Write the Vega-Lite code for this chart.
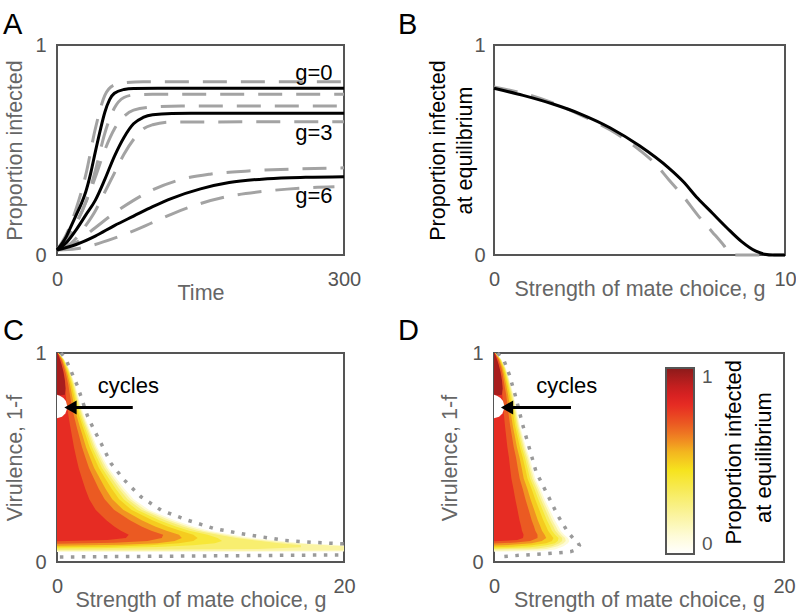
{
"$schema": "https://vega.github.io/schema/vega-lite/v6.json",
"padding": {"left": 2, "top": 10, "right": 0, "bottom": 0},
"columns": 2,
"spacing": {"row": 98, "column": 150},
"bounds": "flush",
"resolve": {"scale": {"color": "independent"}},
"datasets": {
"timeSolid": [
{"g":0,"t":0,"p":0.024},{"g":0,"t":10,"p":0.09},{"g":0,"t":15,"p":0.14},{"g":0,"t":20,"p":0.19},{"g":0,"t":25,"p":0.24},{"g":0,"t":30,"p":0.3},{"g":0,"t":35,"p":0.385},{"g":0,"t":40,"p":0.49},{"g":0,"t":45,"p":0.59},{"g":0,"t":50,"p":0.68},{"g":0,"t":55,"p":0.74},{"g":0,"t":60,"p":0.77},{"g":0,"t":70,"p":0.788},{"g":0,"t":80,"p":0.793},{"g":0,"t":120,"p":0.794},{"g":0,"t":300,"p":0.794},
{"g":3,"t":0,"p":0.024},{"g":3,"t":10,"p":0.06},{"g":3,"t":20,"p":0.12},{"g":3,"t":30,"p":0.19},{"g":3,"t":40,"p":0.26},{"g":3,"t":50,"p":0.36},{"g":3,"t":60,"p":0.47},{"g":3,"t":70,"p":0.56},{"g":3,"t":80,"p":0.625},{"g":3,"t":90,"p":0.655},{"g":3,"t":100,"p":0.668},{"g":3,"t":120,"p":0.674},{"g":3,"t":150,"p":0.675},{"g":3,"t":300,"p":0.675},
{"g":6,"t":0,"p":0.024},{"g":6,"t":20,"p":0.05},{"g":6,"t":40,"p":0.09},{"g":6,"t":60,"p":0.14},{"g":6,"t":80,"p":0.185},{"g":6,"t":100,"p":0.23},{"g":6,"t":120,"p":0.27},{"g":6,"t":150,"p":0.315},{"g":6,"t":180,"p":0.345},{"g":6,"t":220,"p":0.363},{"g":6,"t":260,"p":0.37},{"g":6,"t":300,"p":0.373}
],
"timeDashed": [
{"g":0,"bound":"upper","t":0,"p":0.024},{"g":0,"bound":"upper","t":10,"p":0.1},{"g":0,"bound":"upper","t":20,"p":0.22},{"g":0,"bound":"upper","t":30,"p":0.38},{"g":0,"bound":"upper","t":40,"p":0.6},{"g":0,"bound":"upper","t":50,"p":0.76},{"g":0,"bound":"upper","t":60,"p":0.81},{"g":0,"bound":"upper","t":70,"p":0.82},{"g":0,"bound":"upper","t":90,"p":0.825},{"g":0,"bound":"upper","t":300,"p":0.825},
{"g":0,"bound":"lower","t":0,"p":0.024},{"g":0,"bound":"lower","t":10,"p":0.07},{"g":0,"bound":"lower","t":20,"p":0.15},{"g":0,"bound":"lower","t":30,"p":0.25},{"g":0,"bound":"lower","t":40,"p":0.4},{"g":0,"bound":"lower","t":50,"p":0.58},{"g":0,"bound":"lower","t":60,"p":0.7},{"g":0,"bound":"lower","t":70,"p":0.75},{"g":0,"bound":"lower","t":80,"p":0.762},{"g":0,"bound":"lower","t":100,"p":0.765},{"g":0,"bound":"lower","t":300,"p":0.765},
{"g":3,"bound":"upper","t":0,"p":0.024},{"g":3,"bound":"upper","t":10,"p":0.07},{"g":3,"bound":"upper","t":20,"p":0.15},{"g":3,"bound":"upper","t":30,"p":0.25},{"g":3,"bound":"upper","t":40,"p":0.37},{"g":3,"bound":"upper","t":50,"p":0.5},{"g":3,"bound":"upper","t":60,"p":0.6},{"g":3,"bound":"upper","t":70,"p":0.66},{"g":3,"bound":"upper","t":80,"p":0.69},{"g":3,"bound":"upper","t":100,"p":0.705},{"g":3,"bound":"upper","t":130,"p":0.71},{"g":3,"bound":"upper","t":300,"p":0.71},
{"g":3,"bound":"lower","t":0,"p":0.024},{"g":3,"bound":"lower","t":10,"p":0.04},{"g":3,"bound":"lower","t":20,"p":0.08},{"g":3,"bound":"lower","t":30,"p":0.14},{"g":3,"bound":"lower","t":40,"p":0.21},{"g":3,"bound":"lower","t":50,"p":0.3},{"g":3,"bound":"lower","t":60,"p":0.39},{"g":3,"bound":"lower","t":70,"p":0.48},{"g":3,"bound":"lower","t":80,"p":0.55},{"g":3,"bound":"lower","t":90,"p":0.6},{"g":3,"bound":"lower","t":100,"p":0.62},{"g":3,"bound":"lower","t":120,"p":0.633},{"g":3,"bound":"lower","t":300,"p":0.635},
{"g":6,"bound":"upper","t":0,"p":0.024},{"g":6,"bound":"upper","t":20,"p":0.06},{"g":6,"bound":"upper","t":40,"p":0.13},{"g":6,"bound":"upper","t":60,"p":0.2},{"g":6,"bound":"upper","t":80,"p":0.26},{"g":6,"bound":"upper","t":100,"p":0.31},{"g":6,"bound":"upper","t":130,"p":0.36},{"g":6,"bound":"upper","t":160,"p":0.385},{"g":6,"bound":"upper","t":200,"p":0.4},{"g":6,"bound":"upper","t":250,"p":0.41},{"g":6,"bound":"upper","t":300,"p":0.415},
{"g":6,"bound":"lower","t":0,"p":0.024},{"g":6,"bound":"lower","t":20,"p":0.03},{"g":6,"bound":"lower","t":40,"p":0.05},{"g":6,"bound":"lower","t":60,"p":0.08},{"g":6,"bound":"lower","t":80,"p":0.115},{"g":6,"bound":"lower","t":100,"p":0.155},{"g":6,"bound":"lower","t":120,"p":0.195},{"g":6,"bound":"lower","t":150,"p":0.245},{"g":6,"bound":"lower","t":180,"p":0.28},{"g":6,"bound":"lower","t":220,"p":0.305},{"g":6,"bound":"lower","t":260,"p":0.32},{"g":6,"bound":"lower","t":290,"p":0.325}
],
"timeLabels": [
{"t":288,"p":0.833,"label":"g=0"},{"t":288,"p":0.548,"label":"g=3"},{"t":288,"p":0.246,"label":"g=6"}
],
"eqSolid": [
{"g":0,"p":0.794},{"g":1,"p":0.76},{"g":2,"p":0.72},{"g":3,"p":0.67},{"g":4,"p":0.605},{"g":5,"p":0.52},{"g":6,"p":0.415},{"g":6.5,"p":0.35},{"g":7,"p":0.27},{"g":7.5,"p":0.2},{"g":8,"p":0.13},{"g":8.5,"p":0.065},{"g":9,"p":0.018},{"g":9.3,"p":0.004},{"g":9.6,"p":0},{"g":10,"p":0}
],
"eqDashed": [
{"g":0,"p":0.8},{"g":1,"p":0.77},{"g":2,"p":0.725},{"g":3,"p":0.665},{"g":4,"p":0.595},{"g":5,"p":0.5},{"g":5.5,"p":0.44},{"g":6,"p":0.36},{"g":6.5,"p":0.28},{"g":7,"p":0.19},{"g":7.5,"p":0.11},{"g":7.9,"p":0.045},{"g":8.15,"p":0},{"g":10,"p":0}
],
"heatC": [
{"p":0.1,"v":0.048,"g":0},{"p":0.1,"v":0.05,"g":20},{"p":0.1,"v":0.08,"g":20},{"p":0.1,"v":0.09,"g":17.2},{"p":0.1,"v":0.1,"g":15.6},{"p":0.1,"v":0.115,"g":13.6},{"p":0.1,"v":0.13,"g":12.2},{"p":0.1,"v":0.15,"g":10.6},{"p":0.1,"v":0.17,"g":9.5},{"p":0.1,"v":0.2,"g":8.2},{"p":0.1,"v":0.25,"g":6.4},{"p":0.1,"v":0.3,"g":5.35},{"p":0.1,"v":0.35,"g":4.7},{"p":0.1,"v":0.4,"g":4.15},{"p":0.1,"v":0.45,"g":3.6},{"p":0.1,"v":0.5,"g":3.2},{"p":0.1,"v":0.55,"g":2.8},{"p":0.1,"v":0.6,"g":2.5},{"p":0.1,"v":0.65,"g":2.2},{"p":0.1,"v":0.7,"g":1.9},{"p":0.1,"v":0.75,"g":1.65},{"p":0.1,"v":0.8,"g":1.45},{"p":0.1,"v":0.85,"g":1.25},{"p":0.1,"v":0.9,"g":1.0},{"p":0.1,"v":0.93,"g":0.8},{"p":0.1,"v":0.97,"g":0.5},{"p":0.1,"v":1.0,"g":0.1},
{"p":0.2,"v":0.053,"g":0},{"p":0.2,"v":0.055,"g":20},{"p":0.2,"v":0.075,"g":20},{"p":0.2,"v":0.09,"g":16.5},{"p":0.2,"v":0.1,"g":14.9},{"p":0.2,"v":0.115,"g":13.0},{"p":0.2,"v":0.13,"g":11.71},{"p":0.2,"v":0.15,"g":10.18},{"p":0.2,"v":0.17,"g":9.12},{"p":0.2,"v":0.2,"g":7.87},{"p":0.2,"v":0.25,"g":6.14},{"p":0.2,"v":0.3,"g":5.14},{"p":0.2,"v":0.35,"g":4.51},{"p":0.2,"v":0.4,"g":3.98},{"p":0.2,"v":0.45,"g":3.46},{"p":0.2,"v":0.5,"g":3.07},{"p":0.2,"v":0.55,"g":2.69},{"p":0.2,"v":0.6,"g":2.4},{"p":0.2,"v":0.65,"g":2.11},{"p":0.2,"v":0.7,"g":1.82},{"p":0.2,"v":0.75,"g":1.58},{"p":0.2,"v":0.8,"g":1.39},{"p":0.2,"v":0.85,"g":1.2},{"p":0.2,"v":0.9,"g":0.96},{"p":0.2,"v":0.93,"g":0.77},{"p":0.2,"v":0.97,"g":0.48},{"p":0.2,"v":1.0,"g":0.1},
{"p":0.3,"v":0.058,"g":0},{"p":0.3,"v":0.062,"g":14},{"p":0.3,"v":0.07,"g":17},{"p":0.3,"v":0.08,"g":17},{"p":0.3,"v":0.09,"g":15.5},{"p":0.3,"v":0.1,"g":14.2},{"p":0.3,"v":0.115,"g":12.5},{"p":0.3,"v":0.13,"g":11.22},{"p":0.3,"v":0.15,"g":9.75},{"p":0.3,"v":0.17,"g":8.74},{"p":0.3,"v":0.2,"g":7.54},{"p":0.3,"v":0.25,"g":5.89},{"p":0.3,"v":0.3,"g":4.92},{"p":0.3,"v":0.35,"g":4.32},{"p":0.3,"v":0.4,"g":3.82},{"p":0.3,"v":0.45,"g":3.31},{"p":0.3,"v":0.5,"g":2.94},{"p":0.3,"v":0.55,"g":2.58},{"p":0.3,"v":0.6,"g":2.3},{"p":0.3,"v":0.65,"g":2.02},{"p":0.3,"v":0.7,"g":1.75},{"p":0.3,"v":0.75,"g":1.52},{"p":0.3,"v":0.8,"g":1.33},{"p":0.3,"v":0.85,"g":1.15},{"p":0.3,"v":0.9,"g":0.92},{"p":0.3,"v":0.93,"g":0.74},{"p":0.3,"v":0.97,"g":0.46},{"p":0.3,"v":1.0,"g":0.09},
{"p":0.4,"v":0.064,"g":0},{"p":0.4,"v":0.066,"g":3},{"p":0.4,"v":0.072,"g":7},{"p":0.4,"v":0.08,"g":9.5},{"p":0.4,"v":0.09,"g":11},{"p":0.4,"v":0.1,"g":11.5},{"p":0.4,"v":0.115,"g":11.2},{"p":0.4,"v":0.13,"g":10.5},{"p":0.4,"v":0.15,"g":9.22},{"p":0.4,"v":0.17,"g":8.27},{"p":0.4,"v":0.2,"g":7.13},{"p":0.4,"v":0.25,"g":5.57},{"p":0.4,"v":0.3,"g":4.65},{"p":0.4,"v":0.35,"g":4.09},{"p":0.4,"v":0.4,"g":3.61},{"p":0.4,"v":0.45,"g":3.13},{"p":0.4,"v":0.5,"g":2.78},{"p":0.4,"v":0.55,"g":2.44},{"p":0.4,"v":0.6,"g":2.18},{"p":0.4,"v":0.65,"g":1.91},{"p":0.4,"v":0.7,"g":1.65},{"p":0.4,"v":0.75,"g":1.44},{"p":0.4,"v":0.8,"g":1.26},{"p":0.4,"v":0.85,"g":1.09},{"p":0.4,"v":0.9,"g":0.87},{"p":0.4,"v":0.93,"g":0.7},{"p":0.4,"v":0.97,"g":0.435},{"p":0.4,"v":1.0,"g":0.09},
{"p":0.5,"v":0.07,"g":0},{"p":0.5,"v":0.073,"g":3.5},{"p":0.5,"v":0.08,"g":6.5},{"p":0.5,"v":0.09,"g":8.5},{"p":0.5,"v":0.1,"g":9.5},{"p":0.5,"v":0.115,"g":9.8},{"p":0.5,"v":0.13,"g":9.5},{"p":0.5,"v":0.15,"g":8.59},{"p":0.5,"v":0.17,"g":7.7},{"p":0.5,"v":0.2,"g":6.64},{"p":0.5,"v":0.25,"g":5.18},{"p":0.5,"v":0.3,"g":4.33},{"p":0.5,"v":0.35,"g":3.81},{"p":0.5,"v":0.4,"g":3.36},{"p":0.5,"v":0.45,"g":2.92},{"p":0.5,"v":0.5,"g":2.59},{"p":0.5,"v":0.55,"g":2.27},{"p":0.5,"v":0.6,"g":2.03},{"p":0.5,"v":0.65,"g":1.78},{"p":0.5,"v":0.7,"g":1.54},{"p":0.5,"v":0.75,"g":1.34},{"p":0.5,"v":0.8,"g":1.17},{"p":0.5,"v":0.85,"g":1.01},{"p":0.5,"v":0.9,"g":0.81},{"p":0.5,"v":0.93,"g":0.65},{"p":0.5,"v":0.97,"g":0.405},{"p":0.5,"v":1.0,"g":0.08},
{"p":0.6,"v":0.078,"g":0},{"p":0.6,"v":0.082,"g":4.5},{"p":0.6,"v":0.09,"g":7},{"p":0.6,"v":0.1,"g":8.2},{"p":0.6,"v":0.115,"g":8.7},{"p":0.6,"v":0.13,"g":8.5},{"p":0.6,"v":0.15,"g":7.63},{"p":0.6,"v":0.17,"g":6.84},{"p":0.6,"v":0.2,"g":5.9},{"p":0.6,"v":0.25,"g":4.61},{"p":0.6,"v":0.3,"g":3.85},{"p":0.6,"v":0.35,"g":3.38},{"p":0.6,"v":0.4,"g":2.99},{"p":0.6,"v":0.45,"g":2.59},{"p":0.6,"v":0.5,"g":2.3},{"p":0.6,"v":0.55,"g":2.02},{"p":0.6,"v":0.6,"g":1.8},{"p":0.6,"v":0.65,"g":1.58},{"p":0.6,"v":0.7,"g":1.37},{"p":0.6,"v":0.75,"g":1.19},{"p":0.6,"v":0.8,"g":1.04},{"p":0.6,"v":0.85,"g":0.9},{"p":0.6,"v":0.9,"g":0.72},{"p":0.6,"v":0.93,"g":0.58},{"p":0.6,"v":0.97,"g":0.36},{"p":0.6,"v":1.0,"g":0.07},
{"p":0.7,"v":0.087,"g":0},{"p":0.7,"v":0.092,"g":4},{"p":0.7,"v":0.1,"g":6.3},{"p":0.7,"v":0.115,"g":7.3},{"p":0.7,"v":0.13,"g":7.4},{"p":0.7,"v":0.15,"g":6.57},{"p":0.7,"v":0.17,"g":5.89},{"p":0.7,"v":0.2,"g":5.08},{"p":0.7,"v":0.25,"g":3.97},{"p":0.7,"v":0.3,"g":3.32},{"p":0.7,"v":0.35,"g":2.91},{"p":0.7,"v":0.4,"g":2.57},{"p":0.7,"v":0.45,"g":2.23},{"p":0.7,"v":0.5,"g":1.98},{"p":0.7,"v":0.55,"g":1.74},{"p":0.7,"v":0.6,"g":1.55},{"p":0.7,"v":0.65,"g":1.36},{"p":0.7,"v":0.7,"g":1.18},{"p":0.7,"v":0.75,"g":1.02},{"p":0.7,"v":0.8,"g":0.9},{"p":0.7,"v":0.85,"g":0.78},{"p":0.7,"v":0.9,"g":0.62},{"p":0.7,"v":0.93,"g":0.5},{"p":0.7,"v":0.97,"g":0.31},{"p":0.7,"v":1.0,"g":0.06},
{"p":0.8,"v":0.099,"g":0},{"p":0.8,"v":0.105,"g":3.5},{"p":0.8,"v":0.115,"g":4.8},{"p":0.8,"v":0.13,"g":5.0},{"p":0.8,"v":0.15,"g":4.45},{"p":0.8,"v":0.17,"g":3.99},{"p":0.8,"v":0.2,"g":3.44},{"p":0.8,"v":0.25,"g":2.69},{"p":0.8,"v":0.3,"g":2.25},{"p":0.8,"v":0.35,"g":1.97},{"p":0.8,"v":0.4,"g":1.74},{"p":0.8,"v":0.45,"g":1.51},{"p":0.8,"v":0.5,"g":1.34},{"p":0.8,"v":0.55,"g":1.18},{"p":0.8,"v":0.6,"g":1.05},{"p":0.8,"v":0.65,"g":0.92},{"p":0.8,"v":0.7,"g":0.8},{"p":0.8,"v":0.75,"g":0.69},{"p":0.8,"v":0.8,"g":0.61},{"p":0.8,"v":0.85,"g":0.53},{"p":0.8,"v":0.9,"g":0.42},{"p":0.8,"v":0.93,"g":0.34},{"p":0.8,"v":0.97,"g":0.21},{"p":0.8,"v":1.0,"g":0.04},
{"p":0.95,"v":0.795,"g":0},{"p":0.95,"v":0.8,"g":0.55},{"p":0.95,"v":0.83,"g":0.6},{"p":0.95,"v":0.87,"g":0.55},{"p":0.95,"v":0.91,"g":0.45},{"p":0.95,"v":0.95,"g":0.3},{"p":0.95,"v":0.98,"g":0.15},{"p":0.95,"v":1.0,"g":0.04}
],
"heatD": [
{"p":0.1,"v":0.049,"g":0},{"p":0.1,"v":0.052,"g":3.0},{"p":0.1,"v":0.06,"g":4.2},{"p":0.1,"v":0.075,"g":4.8},{"p":0.1,"v":0.09,"g":5.1},{"p":0.1,"v":0.1,"g":5.2},{"p":0.1,"v":0.115,"g":5.1},{"p":0.1,"v":0.13,"g":4.85},{"p":0.1,"v":0.15,"g":4.6},{"p":0.1,"v":0.17,"g":4.45},{"p":0.1,"v":0.2,"g":4.2},{"p":0.1,"v":0.25,"g":3.85},{"p":0.1,"v":0.3,"g":3.5},{"p":0.1,"v":0.35,"g":3.2},{"p":0.1,"v":0.4,"g":2.85},{"p":0.1,"v":0.45,"g":2.65},{"p":0.1,"v":0.5,"g":2.45},{"p":0.1,"v":0.55,"g":2.2},{"p":0.1,"v":0.6,"g":2.0},{"p":0.1,"v":0.65,"g":1.8},{"p":0.1,"v":0.7,"g":1.65},{"p":0.1,"v":0.75,"g":1.5},{"p":0.1,"v":0.8,"g":1.35},{"p":0.1,"v":0.85,"g":1.15},{"p":0.1,"v":0.9,"g":0.95},{"p":0.1,"v":0.93,"g":0.8},{"p":0.1,"v":0.97,"g":0.5},{"p":0.1,"v":1.0,"g":0.1},
{"p":0.2,"v":0.054,"g":0},{"p":0.2,"v":0.056,"g":2.0},{"p":0.2,"v":0.062,"g":3.6},{"p":0.2,"v":0.075,"g":4.4},{"p":0.2,"v":0.09,"g":4.8},{"p":0.2,"v":0.1,"g":4.95},{"p":0.2,"v":0.115,"g":4.9},{"p":0.2,"v":0.13,"g":4.66},{"p":0.2,"v":0.15,"g":4.42},{"p":0.2,"v":0.17,"g":4.27},{"p":0.2,"v":0.2,"g":4.03},{"p":0.2,"v":0.25,"g":3.7},{"p":0.2,"v":0.3,"g":3.36},{"p":0.2,"v":0.35,"g":3.07},{"p":0.2,"v":0.4,"g":2.74},{"p":0.2,"v":0.45,"g":2.54},{"p":0.2,"v":0.5,"g":2.35},{"p":0.2,"v":0.55,"g":2.11},{"p":0.2,"v":0.6,"g":1.92},{"p":0.2,"v":0.65,"g":1.73},{"p":0.2,"v":0.7,"g":1.58},{"p":0.2,"v":0.75,"g":1.44},{"p":0.2,"v":0.8,"g":1.3},{"p":0.2,"v":0.85,"g":1.1},{"p":0.2,"v":0.9,"g":0.91},{"p":0.2,"v":0.93,"g":0.77},{"p":0.2,"v":0.97,"g":0.48},{"p":0.2,"v":1.0,"g":0.1},
{"p":0.3,"v":0.06,"g":0},{"p":0.3,"v":0.065,"g":3.0},{"p":0.3,"v":0.075,"g":4.0},{"p":0.3,"v":0.09,"g":4.5},{"p":0.3,"v":0.1,"g":4.7},{"p":0.3,"v":0.115,"g":4.7},{"p":0.3,"v":0.13,"g":4.46},{"p":0.3,"v":0.15,"g":4.23},{"p":0.3,"v":0.17,"g":4.09},{"p":0.3,"v":0.2,"g":3.86},{"p":0.3,"v":0.25,"g":3.54},{"p":0.3,"v":0.3,"g":3.22},{"p":0.3,"v":0.35,"g":2.94},{"p":0.3,"v":0.4,"g":2.62},{"p":0.3,"v":0.45,"g":2.44},{"p":0.3,"v":0.5,"g":2.25},{"p":0.3,"v":0.55,"g":2.02},{"p":0.3,"v":0.6,"g":1.84},{"p":0.3,"v":0.65,"g":1.66},{"p":0.3,"v":0.7,"g":1.52},{"p":0.3,"v":0.75,"g":1.38},{"p":0.3,"v":0.8,"g":1.24},{"p":0.3,"v":0.85,"g":1.06},{"p":0.3,"v":0.9,"g":0.87},{"p":0.3,"v":0.93,"g":0.74},{"p":0.3,"v":0.97,"g":0.46},{"p":0.3,"v":1.0,"g":0.09},
{"p":0.4,"v":0.065,"g":0},{"p":0.4,"v":0.07,"g":2.5},{"p":0.4,"v":0.08,"g":3.6},{"p":0.4,"v":0.09,"g":4.2},{"p":0.4,"v":0.1,"g":4.4},{"p":0.4,"v":0.115,"g":4.45},{"p":0.4,"v":0.13,"g":4.22},{"p":0.4,"v":0.15,"g":4.0},{"p":0.4,"v":0.17,"g":3.87},{"p":0.4,"v":0.2,"g":3.65},{"p":0.4,"v":0.25,"g":3.35},{"p":0.4,"v":0.3,"g":3.05},{"p":0.4,"v":0.35,"g":2.78},{"p":0.4,"v":0.4,"g":2.48},{"p":0.4,"v":0.45,"g":2.31},{"p":0.4,"v":0.5,"g":2.13},{"p":0.4,"v":0.55,"g":1.91},{"p":0.4,"v":0.6,"g":1.74},{"p":0.4,"v":0.65,"g":1.57},{"p":0.4,"v":0.7,"g":1.44},{"p":0.4,"v":0.75,"g":1.31},{"p":0.4,"v":0.8,"g":1.17},{"p":0.4,"v":0.85,"g":1.0},{"p":0.4,"v":0.9,"g":0.83},{"p":0.4,"v":0.93,"g":0.7},{"p":0.4,"v":0.97,"g":0.435},{"p":0.4,"v":1.0,"g":0.09},
{"p":0.5,"v":0.071,"g":0},{"p":0.5,"v":0.073,"g":1.2},{"p":0.5,"v":0.08,"g":2.6},{"p":0.5,"v":0.09,"g":3.6},{"p":0.5,"v":0.1,"g":4.0},{"p":0.5,"v":0.115,"g":4.1},{"p":0.5,"v":0.13,"g":3.93},{"p":0.5,"v":0.15,"g":3.73},{"p":0.5,"v":0.17,"g":3.6},{"p":0.5,"v":0.2,"g":3.4},{"p":0.5,"v":0.25,"g":3.12},{"p":0.5,"v":0.3,"g":2.84},{"p":0.5,"v":0.35,"g":2.59},{"p":0.5,"v":0.4,"g":2.31},{"p":0.5,"v":0.45,"g":2.15},{"p":0.5,"v":0.5,"g":1.98},{"p":0.5,"v":0.55,"g":1.78},{"p":0.5,"v":0.6,"g":1.62},{"p":0.5,"v":0.65,"g":1.46},{"p":0.5,"v":0.7,"g":1.34},{"p":0.5,"v":0.75,"g":1.22},{"p":0.5,"v":0.8,"g":1.09},{"p":0.5,"v":0.85,"g":0.93},{"p":0.5,"v":0.9,"g":0.77},{"p":0.5,"v":0.93,"g":0.65},{"p":0.5,"v":0.97,"g":0.405},{"p":0.5,"v":1.0,"g":0.08},
{"p":0.6,"v":0.079,"g":0},{"p":0.6,"v":0.082,"g":1.2},{"p":0.6,"v":0.09,"g":2.6},{"p":0.6,"v":0.1,"g":3.3},{"p":0.6,"v":0.115,"g":3.6},{"p":0.6,"v":0.13,"g":3.49},{"p":0.6,"v":0.15,"g":3.31},{"p":0.6,"v":0.17,"g":3.2},{"p":0.6,"v":0.2,"g":3.02},{"p":0.6,"v":0.25,"g":2.77},{"p":0.6,"v":0.3,"g":2.52},{"p":0.6,"v":0.35,"g":2.3},{"p":0.6,"v":0.4,"g":2.05},{"p":0.6,"v":0.45,"g":1.91},{"p":0.6,"v":0.5,"g":1.76},{"p":0.6,"v":0.55,"g":1.58},{"p":0.6,"v":0.6,"g":1.44},{"p":0.6,"v":0.65,"g":1.3},{"p":0.6,"v":0.7,"g":1.19},{"p":0.6,"v":0.75,"g":1.08},{"p":0.6,"v":0.8,"g":0.97},{"p":0.6,"v":0.85,"g":0.83},{"p":0.6,"v":0.9,"g":0.68},{"p":0.6,"v":0.93,"g":0.58},{"p":0.6,"v":0.97,"g":0.36},{"p":0.6,"v":1.0,"g":0.07},
{"p":0.7,"v":0.088,"g":0},{"p":0.7,"v":0.093,"g":1.5},{"p":0.7,"v":0.1,"g":2.5},{"p":0.7,"v":0.115,"g":3.0},{"p":0.7,"v":0.13,"g":3.0},{"p":0.7,"v":0.15,"g":2.85},{"p":0.7,"v":0.17,"g":2.76},{"p":0.7,"v":0.2,"g":2.6},{"p":0.7,"v":0.25,"g":2.39},{"p":0.7,"v":0.3,"g":2.17},{"p":0.7,"v":0.35,"g":1.98},{"p":0.7,"v":0.4,"g":1.77},{"p":0.7,"v":0.45,"g":1.64},{"p":0.7,"v":0.5,"g":1.52},{"p":0.7,"v":0.55,"g":1.36},{"p":0.7,"v":0.6,"g":1.24},{"p":0.7,"v":0.65,"g":1.12},{"p":0.7,"v":0.7,"g":1.02},{"p":0.7,"v":0.75,"g":0.93},{"p":0.7,"v":0.8,"g":0.84},{"p":0.7,"v":0.85,"g":0.71},{"p":0.7,"v":0.9,"g":0.59},{"p":0.7,"v":0.93,"g":0.5},{"p":0.7,"v":0.97,"g":0.31},{"p":0.7,"v":1.0,"g":0.06},
{"p":0.8,"v":0.099,"g":0},{"p":0.8,"v":0.105,"g":1.6},{"p":0.8,"v":0.115,"g":2.0},{"p":0.8,"v":0.13,"g":2.04},{"p":0.8,"v":0.15,"g":1.93},{"p":0.8,"v":0.17,"g":1.87},{"p":0.8,"v":0.2,"g":1.76},{"p":0.8,"v":0.25,"g":1.62},{"p":0.8,"v":0.3,"g":1.47},{"p":0.8,"v":0.35,"g":1.34},{"p":0.8,"v":0.4,"g":1.2},{"p":0.8,"v":0.45,"g":1.11},{"p":0.8,"v":0.5,"g":1.03},{"p":0.8,"v":0.55,"g":0.92},{"p":0.8,"v":0.6,"g":0.84},{"p":0.8,"v":0.65,"g":0.76},{"p":0.8,"v":0.7,"g":0.69},{"p":0.8,"v":0.75,"g":0.63},{"p":0.8,"v":0.8,"g":0.57},{"p":0.8,"v":0.85,"g":0.48},{"p":0.8,"v":0.9,"g":0.4},{"p":0.8,"v":0.93,"g":0.34},{"p":0.8,"v":0.97,"g":0.21},{"p":0.8,"v":1.0,"g":0.04},
{"p":0.95,"v":0.795,"g":0},{"p":0.95,"v":0.8,"g":0.55},{"p":0.95,"v":0.83,"g":0.6},{"p":0.95,"v":0.87,"g":0.55},{"p":0.95,"v":0.91,"g":0.45},{"p":0.95,"v":0.95,"g":0.3},{"p":0.95,"v":0.98,"g":0.15},{"p":0.95,"v":1.0,"g":0.04}
],
"cyclesBlob": [
{"v":0.688,"g":0},{"v":0.695,"g":0.35},{"v":0.71,"g":0.58},{"v":0.73,"g":0.68},{"v":0.75,"g":0.7},{"v":0.77,"g":0.62},{"v":0.785,"g":0.45},{"v":0.795,"g":0.2},{"v":0.8,"g":0}
],
"boundC": [
{"part":"upper","i":1,"g":0.28,"v":1.0},{"part":"upper","i":2,"g":0.63,"v":0.968},{"part":"upper","i":3,"g":1.0,"v":0.91},{"part":"upper","i":4,"g":1.44,"v":0.84},{"part":"upper","i":5,"g":1.8,"v":0.765},{"part":"upper","i":6,"g":2.14,"v":0.696},{"part":"upper","i":7,"g":2.6,"v":0.63},{"part":"upper","i":8,"g":3.07,"v":0.568},{"part":"upper","i":9,"g":3.76,"v":0.472},{"part":"upper","i":10,"g":4.69,"v":0.392},{"part":"upper","i":11,"g":5.85,"v":0.312},{"part":"upper","i":12,"g":7.25,"v":0.248},{"part":"upper","i":13,"g":9.1,"v":0.2},{"part":"upper","i":14,"g":10.96,"v":0.16},{"part":"upper","i":15,"g":12.8,"v":0.136},{"part":"upper","i":16,"g":15.8,"v":0.104},{"part":"upper","i":17,"g":17.8,"v":0.094},{"part":"upper","i":18,"g":20,"v":0.087},
{"part":"lower","i":1,"g":0.2,"v":0.024},{"part":"lower","i":2,"g":20,"v":0.034}
],
"boundD": [
{"part":"edge","i":1,"g":0.25,"v":1.0},{"part":"edge","i":2,"g":0.71,"v":0.96},{"part":"edge","i":3,"g":1.06,"v":0.896},{"part":"edge","i":4,"g":1.52,"v":0.784},{"part":"edge","i":5,"g":1.98,"v":0.656},{"part":"edge","i":6,"g":2.44,"v":0.544},{"part":"edge","i":7,"g":2.9,"v":0.432},{"part":"edge","i":8,"g":3.59,"v":0.336},{"part":"edge","i":9,"g":4.39,"v":0.224},{"part":"edge","i":10,"g":5.08,"v":0.144},{"part":"edge","i":11,"g":5.5,"v":0.11},{"part":"edge","i":12,"g":5.77,"v":0.096},{"part":"edge","i":13,"g":5.89,"v":0.08},{"part":"edge","i":14,"g":5.7,"v":0.06},{"part":"edge","i":15,"g":5.3,"v":0.05},{"part":"edge","i":16,"g":4.97,"v":0.047},{"part":"edge","i":17,"g":3.59,"v":0.04},{"part":"edge","i":18,"g":1.75,"v":0.032},{"part":"edge","i":19,"g":0.25,"v":0.024}
],
"arrowC": [{"g":0.94,"g2":5.28,"v":0.739}],
"arrowD": [{"g":0.9,"g2":5.31,"v":0.739}],
"textC": [{"g":4.97,"v":0.808,"label":"cycles"}],
"textD": [{"g":5.02,"v":0.808,"label":"cycles"}],
"legendTitleD": [{"g":16.55,"v":0.525,"label":"Proportion infected"},{"g":18.6,"v":0.5,"label":"at equilibrium"}]
},
"concat": [
{
"width": 287, "height": 210,
"title": {"text": "A", "dx": -54, "offset": -5},
"encoding": {
"x": {"field": "t", "type": "quantitative", "scale": {"domain": [0, 300], "nice": false}, "axis": {"values": [0, 300], "format": "d", "title": "Time"}},
"y": {"field": "p", "type": "quantitative", "scale": {"domain": [0, 1], "nice": false}, "axis": {"values": [0, 1], "format": "d", "title": "Proportion infected"}}
},
"layer": [
{"data": {"name": "timeDashed"}, "mark": {"type": "line", "stroke": "#a3a3a3", "strokeWidth": 3, "strokeDash": [24, 14], "interpolate": "monotone"}, "encoding": {"detail": [{"field": "g", "type": "nominal"}, {"field": "bound", "type": "nominal"}]}},
{"data": {"name": "timeSolid"}, "mark": {"type": "line", "stroke": "#000000", "strokeWidth": 3, "interpolate": "monotone"}, "encoding": {"detail": {"field": "g", "type": "nominal"}}},
{"data": {"name": "timeLabels"}, "mark": {"type": "text", "align": "right", "baseline": "alphabetic", "fontSize": 22, "color": "#000000"}, "encoding": {"text": {"field": "label"}}}
]
},
{
"width": 291, "height": 210,
"title": {"text": "B", "dx": -96, "offset": -5},
"encoding": {
"x": {"field": "g", "type": "quantitative", "scale": {"domain": [0, 10], "nice": false}, "axis": {"values": [0, 10], "format": "d", "title": "Strength of mate choice, g", "titlePadding": -11}},
"y": {"field": "p", "type": "quantitative", "scale": {"domain": [0, 1], "nice": false}, "axis": {"values": [0, 1], "format": "d", "title": ["Proportion infected", "at equilibrium"], "titleColor": "#000000", "labelPadding": 9, "titlePadding": -3, "titleLineHeight": 27}}
},
"layer": [
{"data": {"name": "eqDashed"}, "mark": {"type": "line", "stroke": "#a3a3a3", "strokeWidth": 3, "strokeDash": [24, 14], "interpolate": "monotone"}},
{"data": {"name": "eqSolid"}, "mark": {"type": "line", "stroke": "#000000", "strokeWidth": 3, "interpolate": "monotone"}}
]
},
{
"width": 287, "height": 209,
"title": {"text": "C", "dx": -54, "offset": -3},
"encoding": {
"x": {"field": "g", "type": "quantitative", "stack": null, "scale": {"domain": [0, 20], "nice": false}, "axis": {"values": [0, 20], "format": "d", "title": "Strength of mate choice, g"}},
"y": {"field": "v", "type": "quantitative", "scale": {"domain": [0, 1], "nice": false}, "axis": {"values": [0, 1], "format": "d", "title": "Virulence, 1-f"}}
},
"layer": [
{"data": {"name": "heatC"}, "mark": {"type": "area", "orient": "horizontal", "clip": true, "opacity": 1},
 "encoding": {"color": {"field": "p", "type": "quantitative", "scale": {"domain": [0, 0.1, 0.28, 0.45, 0.55, 0.63, 0.72, 0.82, 0.9, 1], "range": ["#ffffff", "#fefbd6", "#f8ef7a", "#f6e31e", "#f3b51f", "#ef7f22", "#ea5022", "#e52323", "#c41f1f", "#8b1a1a"], "interpolate": "rgb"}, "legend": null}}},
{"data": {"name": "cyclesBlob"}, "mark": {"type": "area", "orient": "horizontal", "color": "#ffffff", "opacity": 1}},
{"data": {"name": "boundC"}, "mark": {"type": "line", "stroke": "#9a9a9a", "strokeWidth": 3.5, "strokeDash": [3.5, 7.5], "strokeCap": "butt"}, "encoding": {"detail": {"field": "part", "type": "nominal"}, "order": {"field": "i", "type": "quantitative"}}},
{"data": {"name": "arrowC"}, "mark": {"type": "rule", "stroke": "#000000", "strokeWidth": 3}, "encoding": {"x2": {"field": "g2"}}},
{"data": {"name": "arrowC"}, "mark": {"type": "point", "shape": "triangle-left", "size": 200, "filled": true, "color": "#000000", "opacity": 1}},
{"data": {"name": "textC"}, "mark": {"type": "text", "align": "center", "baseline": "alphabetic", "fontSize": 22, "color": "#000000"}, "encoding": {"text": {"field": "label"}}}
]
},
{
"width": 290, "height": 209,
"title": {"text": "D", "dx": -96, "offset": -3},
"encoding": {
"x": {"field": "g", "type": "quantitative", "stack": null, "scale": {"domain": [0, 20], "nice": false}, "axis": {"values": [0, 20], "format": "d", "title": "Strength of mate choice, g"}},
"y": {"field": "v", "type": "quantitative", "scale": {"domain": [0, 1], "nice": false}, "axis": {"values": [0, 1], "format": "d", "title": "Virulence, 1-f", "titlePadding": 10}}
},
"layer": [
{"data": {"name": "heatD"}, "mark": {"type": "area", "orient": "horizontal", "clip": true, "opacity": 1},
 "encoding": {"color": {"field": "p", "type": "quantitative", "scale": {"domain": [0, 0.1, 0.28, 0.45, 0.55, 0.63, 0.72, 0.82, 0.9, 1], "range": ["#ffffff", "#fefbd6", "#f8ef7a", "#f6e31e", "#f3b51f", "#ef7f22", "#ea5022", "#e52323", "#c41f1f", "#8b1a1a"], "interpolate": "rgb"},
 "legend": {"orient": "none", "legendX": 172, "legendY": 15, "direction": "vertical", "gradientLength": 186, "gradientThickness": 28, "values": [0, 1], "format": "d", "title": null, "labelFontSize": 19, "labelColor": "#555555", "labelOffset": 8, "labelBaseline": "middle", "gradientStrokeColor": "#555555", "gradientStrokeWidth": 2, "padding": 0}}}},
{"data": {"name": "cyclesBlob"}, "mark": {"type": "area", "orient": "horizontal", "color": "#ffffff", "opacity": 1}},
{"data": {"name": "boundD"}, "mark": {"type": "line", "stroke": "#9a9a9a", "strokeWidth": 3.5, "strokeDash": [3.5, 7.5], "strokeCap": "butt"}, "encoding": {"detail": {"field": "part", "type": "nominal"}, "order": {"field": "i", "type": "quantitative"}}},
{"data": {"name": "arrowD"}, "mark": {"type": "rule", "stroke": "#000000", "strokeWidth": 3}, "encoding": {"x2": {"field": "g2"}}},
{"data": {"name": "arrowD"}, "mark": {"type": "point", "shape": "triangle-left", "size": 200, "filled": true, "color": "#000000", "opacity": 1}},
{"data": {"name": "textD"}, "mark": {"type": "text", "align": "center", "baseline": "alphabetic", "fontSize": 22, "color": "#000000"}, "encoding": {"text": {"field": "label"}}},
{"data": {"name": "legendTitleD"}, "mark": {"type": "text", "align": "center", "baseline": "middle", "angle": 270, "fontSize": 22, "color": "#000000"}, "encoding": {"text": {"field": "label"}}}
]
}
],
"config": {
"font": "Liberation Sans",
"view": {"stroke": "#555555", "strokeWidth": 2},
"axis": {"grid": false, "ticks": false, "tickSize": 0, "domain": false, "labelFontSize": 20, "labelColor": "#555555", "labelFlush": false, "labelOverlap": false, "titleFontSize": 21.5, "titleFontWeight": "normal", "titleColor": "#666666"},
"axisX": {"labelPadding": 14, "titlePadding": -7},
"axisY": {"labelPadding": 11, "titlePadding": 8},
"title": {"fontSize": 29, "fontWeight": "normal", "anchor": "start", "frame": "group", "color": "#000000", "baseline": "alphabetic"}
}
}
